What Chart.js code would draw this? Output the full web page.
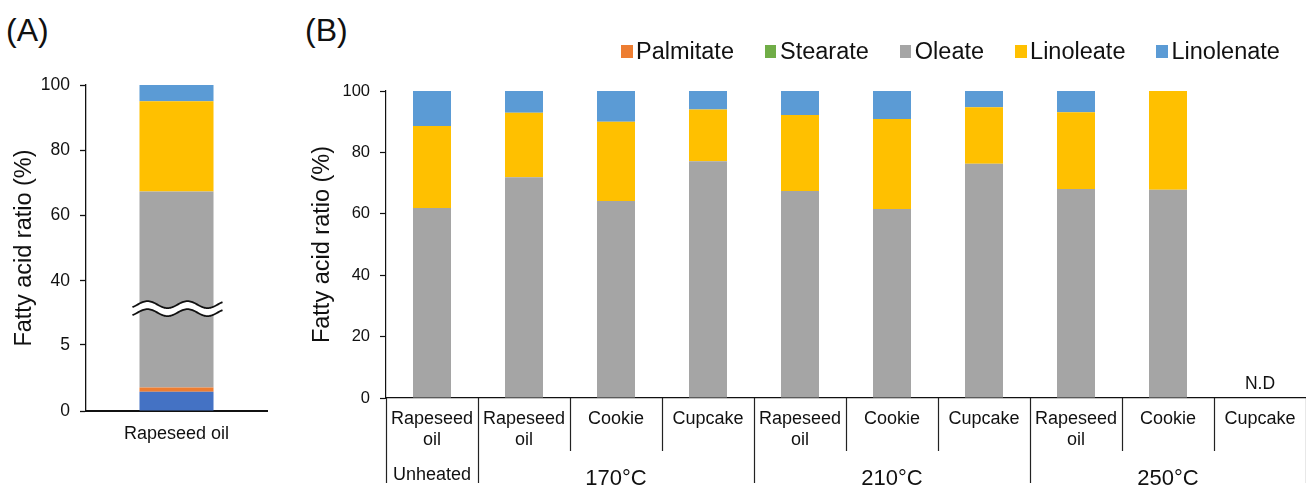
<!DOCTYPE html>
<html>
<head>
<meta charset="utf-8">
<title>Fatty acid composition</title>
<script src="https://cdn.jsdelivr.net/npm/chart.js@4/dist/chart.umd.min.js"></script>
<style>
  html, body { margin: 0; padding: 0; background: #fff; }
  body { position: relative; width: 1306px; height: 486px; overflow: hidden;
         font-family: 'Liberation Sans', Arial, sans-serif; color: #111; }
  .tag { position: absolute; top: 14px; font-size: 32px; line-height: 32px; }
  canvas { position: absolute; top: 0; }
  #legendB { position: absolute; left: 621px; top: 37px; display: flex; align-items: center;
             font-size: 23.5px; line-height: 28px; white-space: nowrap; }
  #legendB .item { display: flex; align-items: center; margin-right: 31px; }
  #legendB .item:last-child { margin-right: 0; }
  #legendB .box { width: 11.5px; height: 13px; margin-right: 3.5px; }
</style>
</head>
<body>
<div class="tag" style="left:6px">(A)</div>
<div class="tag" style="left:305px">(B)</div>
<canvas id="chartA" width="290" height="486" style="left:0"></canvas>
<canvas id="chartB" width="1016" height="486" style="left:290px"></canvas>
<div id="legendB"></div>

<script>
// ---------- data ----------
const FATTY_ACIDS = ['Palmitate', 'Stearate', 'Oleate', 'Linoleate', 'Linolenate'];

// (A) unheated rapeseed oil, shown on a broken y axis
const OIL_LABEL = ['Rapeseed oil'];
const OIL_PALMITATE = [1.46];
const OIL_STEARATE = [0.31];
const OIL_OLEATE = [65.63];
const OIL_LINOLEATE = [27.6];
const OIL_LINOLENATE = [5.0];
const OIL_TICKS = [0, 5, 40, 60, 80, 100];

// (B) oil and baked goods at each heating condition
const SAMPLES = [
  ['Rapeseed', 'oil'],
  ['Rapeseed', 'oil'], 'Cookie', 'Cupcake',
  ['Rapeseed', 'oil'], 'Cookie', 'Cupcake',
  ['Rapeseed', 'oil'], 'Cookie', 'Cupcake'
];
const CONDITIONS = ['Unheated', '170°C', '210°C', '250°C'];
const CONDITION_SIZES = [1, 3, 3, 3];
const PALMITATE  = [0, 0, 0, 0, 0, 0, 0, 0, 0, null];
const STEARATE   = [0, 0, 0, 0, 0, 0, 0, 0, 0, null];
const OLEATE     = [61.9, 71.9, 64.2, 77.1, 67.4, 61.6, 76.3, 68.1, 67.8, null];
const LINOLEATE  = [26.7, 21.0, 25.8, 16.9, 24.8, 29.3, 18.4, 25.0, 32.2, null];
const LINOLENATE = [11.4, 7.1, 10.0, 6.0, 7.8, 9.1, 5.3, 6.9, 0, null];
const Y_TICK_STEP = 20;
const NOT_DETECTED = 'N.D';

// ---------- styling ----------
const FONT = "'Liberation Sans', Arial, sans-serif";
const INK = '#111';
const COLORS_A = ['#4472C4', '#ED7D31', '#A5A5A5', '#FFC000', '#5B9BD5'];
const COLORS_B = ['#ED7D31', '#70AD47', '#A5A5A5', '#FFC000', '#5B9BD5'];

Chart.defaults.font.family = FONT;
Chart.defaults.color = INK;

// Linear scale with a cut between breakLow and breakHigh:
// the lower segment takes lowShare of the height, the cut takes gapShare.
class BrokenLinearScale extends Chart.LinearScale {
  static id = 'brokenLinear';
  static defaults = Chart.LinearScale.defaults;
  _cut() {
    const o = this.options;
    const h = this.bottom - this.top;
    const lowH = h * o.lowShare;
    const gapH = h * o.gapShare;
    return { low: o.breakLow, high: o.breakHigh, lowH, gapH, highH: h - lowH - gapH };
  }
  getPixelForValue(value) {
    const c = this._cut();
    let off;
    if (value <= c.low) off = (value - this.min) / (c.low - this.min) * c.lowH;
    else if (value >= c.high) off = c.lowH + c.gapH + (value - c.high) / (this.max - c.high) * c.highH;
    else off = c.lowH + (value - c.low) / (c.high - c.low) * c.gapH;
    return this.bottom - off;
  }
  getValueForPixel(pixel) {
    const c = this._cut();
    const off = this.bottom - pixel;
    if (off <= c.lowH) return this.min + off / c.lowH * (c.low - this.min);
    if (off >= c.lowH + c.gapH) return c.high + (off - c.lowH - c.gapH) / c.highH * (this.max - c.high);
    return c.low + (off - c.lowH) / c.gapH * (c.high - c.low);
  }
}
Chart.register(BrokenLinearScale);

// Wavy double line marking the axis cut across the bar
const breakMark = {
  id: 'breakMark',
  afterDatasetsDraw(chart) {
    const y = chart.scales.y, o = y.options, ctx = chart.ctx;
    const yc = (y.getPixelForValue(o.breakLow) + y.getPixelForValue(o.breakHigh)) / 2;
    const bar = chart.getDatasetMeta(2).data[0];
    const x0 = bar.x - bar.width / 2 - 7, x1 = bar.x + bar.width / 2 + 9;
    const amp = 3.5, period = 40, half = 4;
    const wave = (x, dy) => yc + dy - amp * Math.sin(2 * Math.PI * (x - x0 - 5) / period);
    ctx.save();
    ctx.beginPath();
    for (let x = x0; x <= x1; x += 1) ctx.lineTo(x, wave(x, -half));
    for (let x = x1; x >= x0; x -= 1) ctx.lineTo(x, wave(x, half));
    ctx.closePath();
    ctx.fillStyle = '#fff';
    ctx.fill();
    ctx.strokeStyle = INK;
    ctx.lineWidth = 1.8;
    [-half, half].forEach(dy => {
      ctx.beginPath();
      for (let x = x0; x <= x1; x += 1) ctx.lineTo(x, wave(x, dy));
      ctx.stroke();
    });
    ctx.restore();
  }
};

// Condition groups under the sample labels, plus the N.D note
const groupAxis = {
  id: 'groupAxis',
  afterDraw(chart) {
    const xs = chart.scales.x, ctx = chart.ctx;
    const y0 = xs.top;
    const step = xs.getPixelForValue(1) - xs.getPixelForValue(0);
    const edges = [0];
    CONDITION_SIZES.reduce((acc, n) => { edges.push(acc + n); return acc + n; }, 0);

    ctx.save();
    ctx.strokeStyle = '#222';
    ctx.lineWidth = 1.2;
    for (let i = 0; i <= SAMPLES.length; i++) {
      const px = Math.round(xs.getPixelForValue(i) - step / 2) + 0.5;
      const len = edges.includes(i) ? 85 : 53;
      ctx.beginPath();
      ctx.moveTo(px, y0);
      ctx.lineTo(px, y0 + len);
      ctx.stroke();
    }

    ctx.fillStyle = INK;
    ctx.textAlign = 'center';
    ctx.textBaseline = 'alphabetic';
    CONDITIONS.forEach((name, g) => {
      const first = edges[g], last = edges[g + 1] - 1;
      const cx = (xs.getPixelForValue(first) + xs.getPixelForValue(last)) / 2;
      const single = CONDITION_SIZES[g] === 1;
      ctx.font = (single ? 18 : 22) + 'px ' + FONT;
      ctx.fillText(name, cx, y0 + (single ? 82 : 87));
    });

    const ys = chart.scales.y;
    ctx.font = '17.5px ' + FONT;
    SAMPLES.forEach((s, i) => {
      const empty = chart.data.datasets.every(d => d.data[i] === null);
      if (empty) ctx.fillText(NOT_DETECTED, xs.getPixelForValue(i), ys.getPixelForValue(0) - 9);
    });
    ctx.restore();
  }
};

// ---------- (A) ----------
const seriesA = [OIL_PALMITATE, OIL_STEARATE, OIL_OLEATE, OIL_LINOLEATE, OIL_LINOLENATE];
new Chart(document.getElementById('chartA'), {
  type: 'bar',
  data: {
    labels: OIL_LABEL,
    datasets: FATTY_ACIDS.map((name, i) => ({
      label: name, data: seriesA[i], backgroundColor: COLORS_A[i], borderWidth: 0
    }))
  },
  options: {
    responsive: false,
    animation: false,
    layout: { padding: { top: 85, right: 23, left: 0, bottom: 0 } },
    plugins: { legend: { display: false }, tooltip: { enabled: false } },
    datasets: { bar: { categoryPercentage: 1, barPercentage: 0.409 } },
    scales: {
      x: {
        stacked: true,
        grid: { display: false, drawTicks: false },
        border: { color: INK, width: 2 },
        ticks: { font: { size: 18 }, color: INK, padding: 12 },
        afterFit: s => { s.height = 75; }
      },
      y: {
        type: 'brokenLinear',
        stacked: true,
        min: 0, max: 100,
        breakLow: 7.5, breakHigh: 32.5, lowShare: 0.304, gapShare: 0.02,
        afterBuildTicks: s => { s.ticks = OIL_TICKS.map(v => ({ value: v })); },
        grid: { drawOnChartArea: false, tickLength: 6, color: INK, tickWidth: 1.3 },
        border: { color: INK, width: 1.3 },
        ticks: { font: { size: 17.5 }, color: INK, padding: 10 },
        title: { display: true, text: 'Fatty acid ratio (%)', font: { size: 23.5 }, color: INK,
                 padding: { top: 10, bottom: 0 } },
        afterFit: s => { s.width = 86; }
      }
    }
  },
  plugins: [breakMark]
});

// ---------- (B) ----------
const seriesB = [PALMITATE, STEARATE, OLEATE, LINOLEATE, LINOLENATE];
const chartB = new Chart(document.getElementById('chartB'), {
  type: 'bar',
  data: {
    labels: SAMPLES,
    datasets: FATTY_ACIDS.map((name, i) => ({
      label: name, data: seriesB[i], backgroundColor: COLORS_B[i], borderWidth: 0
    }))
  },
  options: {
    responsive: false,
    animation: false,
    layout: { padding: { top: 91, right: 0, left: 0, bottom: 0 } },
    plugins: { legend: { display: false }, tooltip: { enabled: false } },
    datasets: { bar: { categoryPercentage: 1, barPercentage: 0.413 } },
    scales: {
      x: {
        stacked: true,
        grid: { display: false, drawTicks: false },
        border: { color: INK, width: 1.3 },
        ticks: { font: { size: 18, lineHeight: 1.2 }, color: INK, padding: 10,
                 autoSkip: false, maxRotation: 0, minRotation: 0 },
        afterFit: s => { s.height = 88; }
      },
      y: {
        stacked: true,
        min: 0, max: 100,
        grid: { drawOnChartArea: false, tickLength: 6, color: INK, tickWidth: 1.2 },
        border: { color: INK, width: 1.2 },
        ticks: { stepSize: Y_TICK_STEP, font: { size: 16.5 }, color: INK, padding: 10 },
        title: { display: true, text: 'Fatty acid ratio (%)', font: { size: 23.5 }, color: INK,
                 padding: { top: 18, bottom: 0 } },
        afterFit: s => { s.width = 96; }
      }
    }
  },
  plugins: [groupAxis]
});

// HTML legend built from the chart's own legend items
const legendEl = document.getElementById('legendB');
chartB.options.plugins.legend.labels.generateLabels(chartB).forEach(item => {
  const row = document.createElement('span');
  row.className = 'item';
  const box = document.createElement('span');
  box.className = 'box';
  box.style.background = item.fillStyle;
  const txt = document.createElement('span');
  txt.textContent = item.text;
  row.appendChild(box);
  row.appendChild(txt);
  legendEl.appendChild(row);
});
</script>
</body>
</html>
